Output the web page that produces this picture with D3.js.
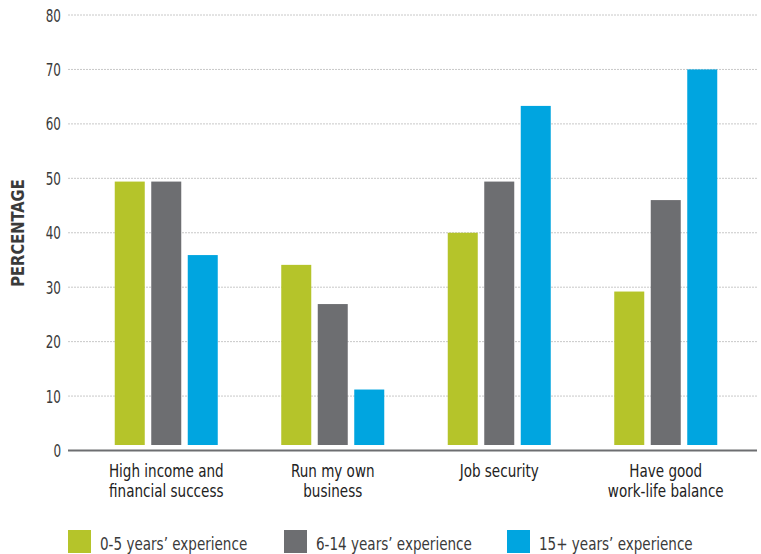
<!DOCTYPE html>
<html>
<head>
<meta charset="utf-8">
<script src="https://cdn.jsdelivr.net/npm/d3@7"></script>
<style>
  body { margin: 0; background: #fff; }
  text { font-family: "DejaVu Sans Condensed", "Liberation Sans Narrow", "Roboto", sans-serif; }
</style>
</head>
<body>
<div id="chart"></div>
<script>
// chart values
const categories = [
  ['High income and', 'financial success'],
  ['Run my own', 'business'],
  ['Job security'],
  ['Have good', 'work-life balance']
];
const seriesNames = ['0-5 years\u2019 experience', '6-14 years\u2019 experience', '15+ years\u2019 experience'];
const seriesColors = ['#b5c42a', '#6d6e71', '#00a5e0'];
const young = [49.4, 34.1, 40.0, 29.2];
const middle = [49.4, 26.9, 49.4, 46.0];
const senior = [35.9, 11.2, 63.3, 70.0];
const yTicks = [0, 10, 20, 30, 40, 50, 60, 70, 80];

const values = [young, middle, senior];
const W = 761, H = 554;
const svg = d3.select('#chart').append('svg')
  .attr('width', W).attr('height', H);

const y = d3.scaleLinear().domain([0, 80]).range([450.5, 15]);
const x0 = d3.scaleBand().domain(d3.range(categories.length)).range([83, 749]);
const x1 = d3.scaleBand().domain(d3.range(seriesNames.length)).range([-51.5, 51.5]).paddingInner(0.178);

// the reference uses a condensed face, so squeeze the text horizontally
const squeeze = (x, y, s) => 'translate(' + x + ',' + y + ') scale(' + s + ',1)';

// grid lines
svg.append('g').selectAll('line')
  .data(yTicks.filter(d => d > 0))
  .enter().append('line')
    .attr('x1', 68).attr('x2', 757)
    .attr('y1', d => y(d)).attr('y2', d => y(d))
    .attr('stroke', '#c8c8c8')
    .attr('stroke-width', 1)
    .attr('stroke-dasharray', '2,1');

// y tick labels
svg.append('g').selectAll('text')
  .data(yTicks)
  .enter().append('text')
    .attr('transform', d => squeeze(61, y(d) + 6.5, 0.74))
    .attr('text-anchor', 'end')
    .attr('font-size', 18)
    .attr('fill', '#3a3a3a')
    .text(d => d);

// axis title
svg.append('text')
  .attr('transform', 'translate(24,233) rotate(-90) scale(0.96,1)')
  .attr('text-anchor', 'middle')
  .attr('font-size', 17)
  .attr('font-weight', 'bold')
  .attr('fill', '#3a3a3a')
  .text('PERCENTAGE');

// bars
const groups = svg.append('g').selectAll('g')
  .data(categories)
  .enter().append('g')
    .attr('transform', (d, i) => 'translate(' + (x0(i) + x0.bandwidth() / 2) + ',0)');

groups.selectAll('rect')
  .data((d, i) => values.map((s, j) => ({ s: j, v: s[i] })))
  .enter().append('rect')
    .attr('x', d => x1(d.s))
    .attr('width', x1.bandwidth())
    .attr('y', d => y(d.v))
    .attr('height', d => y(0) - 5.5 - y(d.v))
    .attr('fill', d => seriesColors[d.s]);

// baseline
svg.append('line')
  .attr('x1', 68).attr('x2', 757)
  .attr('y1', y(0)).attr('y2', y(0))
  .attr('stroke', '#6d6e71')
  .attr('stroke-width', 2);

// category labels
groups.selectAll('text')
  .data(d => d)
  .enter().append('text')
    .attr('transform', (d, i) => squeeze(0, 477 + i * 20, 0.86))
    .attr('text-anchor', 'middle')
    .attr('font-size', 17.5)
    .attr('fill', '#222')
    .text(d => d);

// legend
const legendX = [68, 284, 507];
const legend = svg.append('g').selectAll('g')
  .data(seriesNames)
  .enter().append('g')
    .attr('transform', (d, i) => 'translate(' + legendX[i] + ',530)');
legend.append('rect')
  .attr('width', 23).attr('height', 23)
  .attr('fill', (d, i) => seriesColors[i]);
legend.append('text')
  .attr('transform', squeeze(32, 20, 0.86))
  .attr('font-size', 17.5)
  .attr('fill', '#3a3a3a')
  .text(d => d);
</script>
</body>
</html>
